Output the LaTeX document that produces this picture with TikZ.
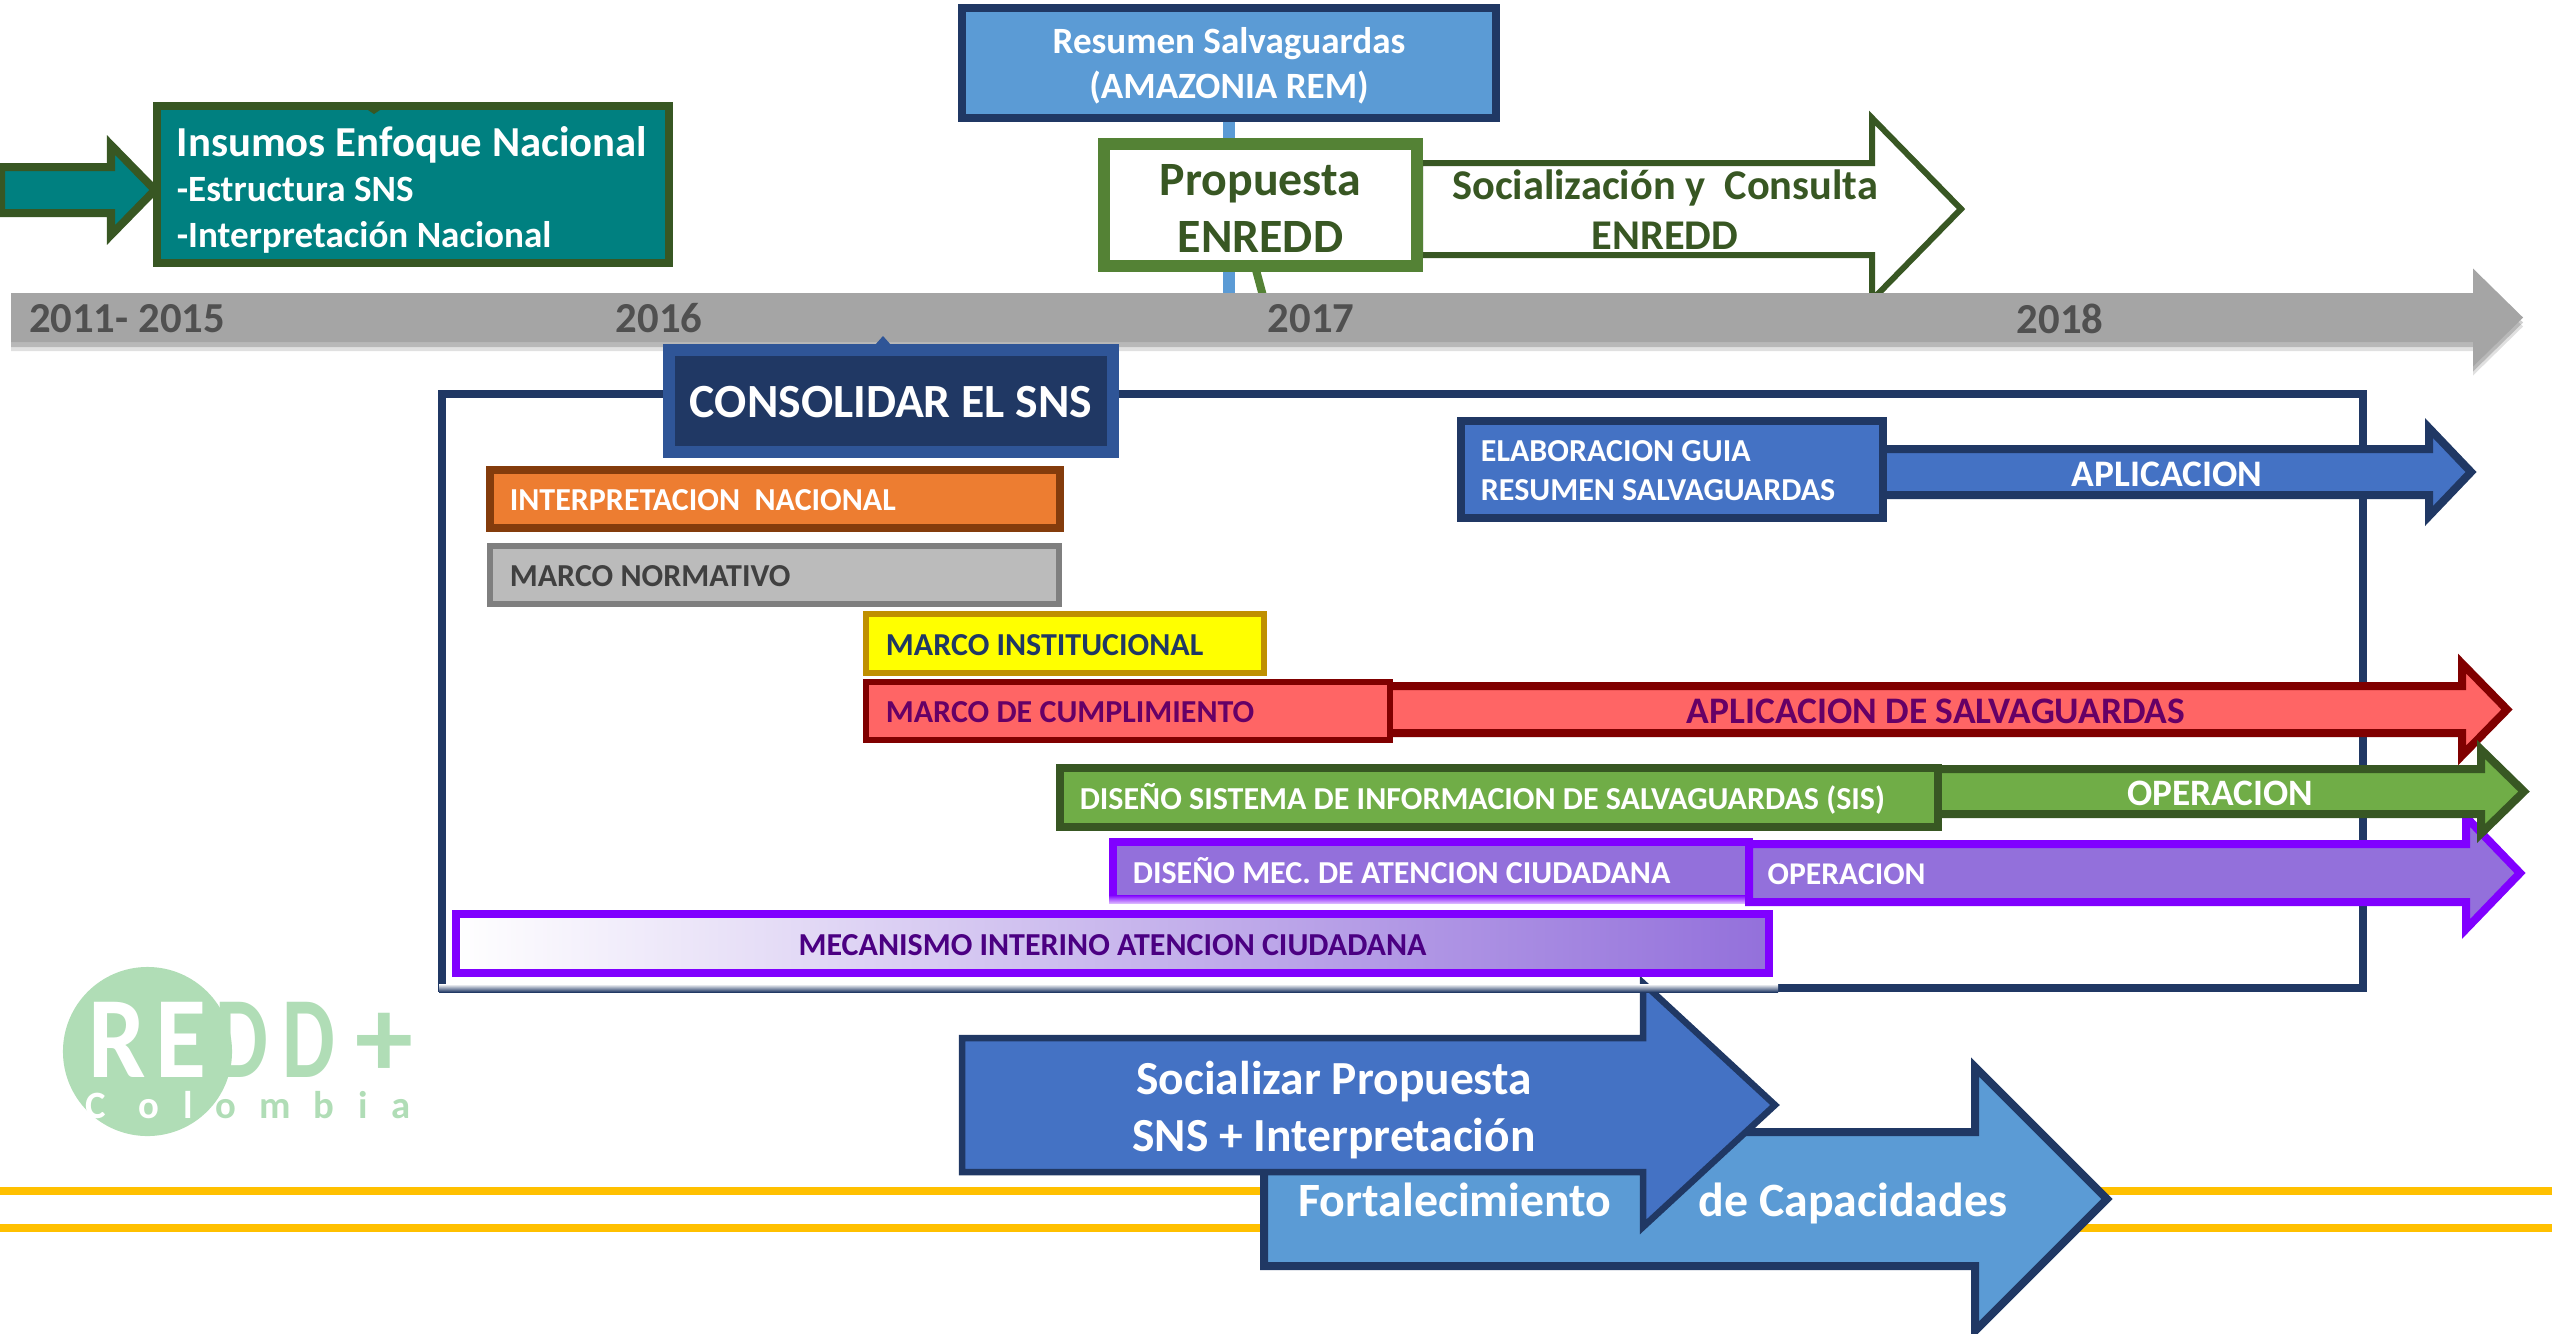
\documentclass[tikz,border=0pt]{standalone}
\usepackage{fontspec}
\setmainfont{Carlito}
\usetikzlibrary{shapes.geometric}

\definecolor{navy}{HTML}{203864}
\definecolor{midblue}{HTML}{2F5597}
\definecolor{royal}{HTML}{4472C4}
\definecolor{sky}{HTML}{5B9BD5}
\definecolor{forest}{HTML}{385723}
\definecolor{leaf}{HTML}{548235}
\definecolor{grass}{HTML}{70AD47}
\definecolor{tealbox}{HTML}{008080}
\definecolor{rust}{HTML}{843C0C}
\definecolor{orangebar}{HTML}{ED7D31}
\definecolor{silver}{HTML}{BBBBBB}
\definecolor{steel}{HTML}{7F7F7F}
\definecolor{ochre}{HTML}{BF9000}
\definecolor{lemon}{HTML}{FFFF00}
\definecolor{maroon}{HTML}{800000}
\definecolor{salmon}{HTML}{FF6565}
\definecolor{plum}{HTML}{660066}
\definecolor{violet}{HTML}{8000FF}
\definecolor{lilac}{HTML}{9370DB}
\definecolor{indigo}{HTML}{4B0082}
\definecolor{gold}{HTML}{FFC000}
\definecolor{timeline}{HTML}{A5A5A5}
\definecolor{yeartext}{HTML}{505050}
\definecolor{logogreen}{HTML}{B0DDB6}

\tikzset{
    fs/.style args={#1/#2}{font=\bfseries\fontsize{#1}{#2}\selectfont},
    drop/.style={execute at begin node={\rule{0pt}{#1}}},
    bar/.style={rectangle, draw, inner xsep=.2cm, inner ysep=0pt, align=flush left},
    year/.style={fs=12.15/14, text=yeartext},
    logoletter/.style={anchor=base, inner sep=0pt, font=\bfseries\fontsize{33}{33}\selectfont},
    logosmall/.style={anchor=base, inner sep=0pt, font=\bfseries\fontsize{11}{11}\selectfont},
}

% x0, top, bottom of shaft, back of head, tip, half height of head
\newcommand{\blockarrow}[7][]{
    \draw[line join=miter, #1] (#2,#3) -- (#5,#3) -- (#5,{(#3+#4)/2-#7}) -- (#6,{(#3+#4)/2})
        -- (#5,{(#3+#4)/2+#7}) -- (#5,#4) -- (#2,#4) -- cycle;
}

\begin{document}
\begin{tikzpicture}[x=.01cm, y=-.01cm]
    \path[use as bounding box, clip] (0,0) rectangle (2552,1333);

    % yellow lines at the bottom
    \foreach \ly in {1191,1228}
        \draw[gold, line width=.08cm] (0,\ly) -- (2552,\ly);

    % logo
    \node (logo) at (147.5,1051.5) [ellipse, fill=logogreen, minimum width=1.69cm, minimum height=1.69cm, inner sep=0pt] {};
    \foreach \lx/\lc/\ls/\lt [count=\i] in {117/white/.88/R, 181/white/.9/E, 242/logogreen/.72/D, 309/logogreen/.72/D}
        \node (bigletter\i) at (\lx,1077) [logoletter, text=\lc] {\scalebox{\ls}[1]{\lt}};
    \node (plus) at (384,1077) [logoletter, text=logogreen] {+};
    \foreach \lx/\lc/\lt [count=\i] in {96/white/C, 149/white/o, 188/white/l, 226/logogreen/o, 275/logogreen/m, 324/logogreen/b, 363/logogreen/i, 401/logogreen/a}
        \node (smallletter\i) at (\lx,1118) [logosmall, text=\lc] {\lt};

    % bottom arrows
    \blockarrow[draw=navy, fill=sky, line width=.08cm]{1264}{1132}{1266}{1975}{2107}{132}
    \blockarrow[draw=navy, fill=royal, line width=.065cm]{962}{1038}{1172}{1643}{1775}{122}

    % connectors up to the time line
    \coordinate (bluefoot) at (1229,300);
    \coordinate (greentop) at (1256,270);
    \coordinate (greenfoot) at (1263,296);
    \node (resumen) at (1229,63) [bar, align=flush center, draw=navy, fill=sky, text=white, line width=.08cm,
        text width=4.94cm, minimum height=1.1cm, fs=10.55/12.8, drop=8.8pt] {Resumen Salvaguardas\\(AMAZONIA REM)};
    \draw[sky, line width=.12cm] (resumen) -- (bluefoot);
    \draw[leaf, line width=.08cm] (greentop) -- (greenfoot);
    \blockarrow[draw=forest, fill=white, line width=.06cm]{1420}{163}{255}{1872}{1961}{91}
    \node (propuesta) at (1260.5,205) [bar, align=flush center, draw=leaf, fill=white, text=forest, line width=.12cm,
        text width=2.73cm, minimum height=1.22cm, fs=13.6/16.2, drop=10.7pt] {Propuesta\\ENREDD};

    % time line with its shadow
    \blockarrow[draw=none, fill=black, opacity=.12, shift={(0,9)}]{11}{293}{342}{2473}{2523}{49}
    \blockarrow[draw=none, fill=black, opacity=.18, shift={(0,5)}]{11}{293}{342}{2473}{2523}{49}
    \blockarrow[draw=none, fill=timeline]{11}{293}{342}{2473}{2523}{49}
    \node (y2015) at (127,318.5) [year] {2011- 2015};
    \node (y2016) at (659,318.5) [year] {2016};
    \node (y2017) at (1311,318.5) [year] {2017};
    \node (y2018) at (2060,318.5) [year] {2018};

    % inputs
    \blockarrow[draw=forest, fill=tealbox, line width=.08cm]{1}{167}{213}{111}{155}{45}
    \node (insumos) at (413,184.5) [bar, draw=forest, fill=tealbox, text=white, line width=.08cm,
        text width=4.72cm, minimum height=1.57cm, fs=10.55/13, drop=11.5pt] {{\fontsize{12.15}{13}\selectfont Insumos Enfoque Nacional}\\-Estructura SNS\\-Interpretación Nacional};
    \fill[forest] (368,110) -- (380,110) -- (374,114) -- cycle;

    % big frame
    \node (frame) at (1402.5,691) [rectangle, draw=navy, line width=.08cm, minimum width=19.19cm, minimum height=5.94cm] {};
    \fill[top color=white, bottom color=navy] (439,984) rectangle (1778,992);
    \fill[midblue] (875,345) -- (883,336) -- (891,345) -- cycle;
    \node (consolidar) at (891,401) [bar, align=flush center, inner xsep=.1cm, draw=midblue, fill=navy, text=white, line width=.12cm,
        text width=4.24cm, minimum height=1.02cm, fs=13.55/16, drop=9.6pt] {CONSOLIDAR EL SNS};

    % rows
    \blockarrow[draw=navy, fill=royal, line width=.08cm]{1880}{449}{495}{2429}{2471}{44}
    \node (guia) at (1672,469.5) [bar, draw=navy, fill=royal, text=white, line width=.08cm,
        text width=3.82cm, minimum height=.97cm, fs=9.1/11.1, drop=6.8pt] {ELABORACION GUIA\\RESUMEN SALVAGUARDAS};
    \node (aplicacion) at (2167,474.5) [text=white, fs=10.65/12] {APLICACION};

    \node (interpretacion) at (775,499) [bar, draw=rust, fill=orangebar, text=white, line width=.08cm,
        text width=5.3cm, minimum height=.58cm, fs=9.1/11, drop=6.7pt] {INTERPRETACION\ \ NACIONAL};
    \node (normativo) at (774.5,575) [bar, draw=steel, fill=silver, text=black!75, line width=.06cm,
        text width=5.29cm, minimum height=.58cm, fs=9.1/11, drop=6.7pt] {MARCO NORMATIVO};
    \node (institucional) at (1065,643.5) [bar, draw=ochre, fill=lemon, text=navy, line width=.06cm,
        text width=3.58cm, minimum height=.59cm, fs=9.1/11, drop=6.7pt] {MARCO INSTITUCIONAL};

    \blockarrow[draw=maroon, fill=salmon, line width=.08cm]{1385}{686}{733}{2462}{2507}{46}
    \node (cumplimiento) at (1128,711) [bar, draw=maroon, fill=salmon, text=plum, line width=.06cm,
        text width=4.84cm, minimum height=.58cm, fs=9.1/11, drop=6.7pt] {MARCO DE CUMPLIMIENTO};
    \node (salvaguardas) at (1936,711.5) [text=plum, fs=10.65/12] {APLICACION DE SALVAGUARDAS};

    \node (disenomec) at (1431,870.5) [bar, draw=violet, fill=lilac, text=white, line width=.08cm,
        text width=5.96cm, minimum height=.57cm, fs=9.1/11, drop=7.5pt] {DISEÑO MEC. DE ATENCION CIUDADANA};
    \fill[top color=violet, bottom color=violet!30] (1109,895) rectangle (1753,903);
    \blockarrow[draw=violet, fill=lilac, line width=.08cm]{1749}{844}{902}{2466}{2520}{56}
    \node (operacionmec) at (1767,874) [anchor=west, inner sep=0pt, text=white, fs=9/11] {OPERACION};

    \blockarrow[draw=forest, fill=grass, line width=.08cm]{1935}{769}{814}{2481}{2524}{42}
    \node (sistema) at (1499,797.5) [bar, draw=forest, fill=grass, text=white, line width=.08cm,
        text width=8.38cm, minimum height=.59cm, fs=9.1/11, drop=8pt] {DISEÑO SISTEMA DE INFORMACION DE SALVAGUARDAS (SIS)};
    \node (operacionsis) at (2220,793.5) [text=white, fs=10.6/12] {OPERACION};

    \node (interino) at (1112.5,943.5) [bar, align=flush center, draw=violet, left color=white, middle color=lilac!30, right color=lilac,
        text=indigo, line width=.08cm, text width=12.73cm, minimum height=.59cm, fs=9.1/11, drop=6.7pt] {MECANISMO INTERINO ATENCION CIUDADANA};

    % texts in the arrows
    \node (consulta) at (1665,210) [align=center, text=forest, fs=12.05/14.2] {Socialización y\ \ Consulta\\ENREDD};
    \node (socializar) at (1334,1110) [align=center, text=white, fs=13.5/16.2] {Socializar Propuesta\\SNS + Interpretación};
    \node (fortalecimiento) at (1455,1216) [anchor=base, text=white, fs=13.6/14] {Fortalecimiento};
    \node (capacidades) at (1853,1216) [anchor=base, text=white, fs=13.6/14] {de Capacidades};
\end{tikzpicture}
\end{document}
